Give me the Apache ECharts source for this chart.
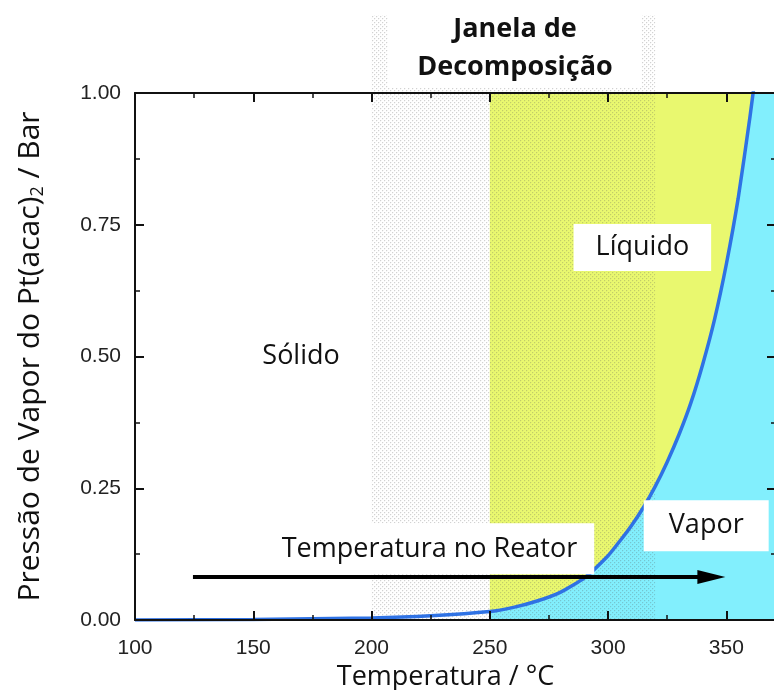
<!DOCTYPE html>
<html><head><meta charset="utf-8">
<script src="https://cdn.jsdelivr.net/npm/echarts@6/dist/echarts.min.js"></script>
<style>html,body{margin:0;padding:0;background:#fff}#c{width:774px;height:690px}</style>
</head><body><div id="c"></div>
<script>
// ---- data ----
const temps = [100, 150, 200, 225, 250, 260, 270, 280, 290, 300, 305, 310, 315, 320, 325, 330, 335, 340, 345, 350, 355, 360, 365, 372];
const pressures = [0, 0.001, 0.004, 0.008, 0.016, 0.024, 0.036, 0.053, 0.080, 0.122, 0.150, 0.180, 0.214, 0.254, 0.300, 0.352, 0.412, 0.485, 0.570, 0.675, 0.800, 0.955, 1.13, 1.43];
const liquidStart = 250;
const windowRange = [200, 320];
const xRange = [100, 371];
const yRange = [0, 1];
const labelTexts = ['Sólido', 'Líquido', 'Vapor', 'Temperatura no Reator'];
const labelT = [170.2, 314.5, 341.5, 224.5];
const labelP = [0.5, 0.707, 0.179, 0.135];
const arrowT = [124.5, 349.6];
const arrowP = 0.0816;
const titleLines = ['Janela de', 'Decomposição'];
const xName = 'Temperatura / °C';
const yName = 'Pressão de Vapor do Pt(acac){sub|2} / Bar';

// ---- build ----
const curve = temps.map((t, i) => [t, pressures[i]]);
const vaporArea = curve.filter(d => d[0] >= liquidStart);
const liquidArea = [[liquidStart, yRange[1]], [xRange[1], yRange[1]]];

const pc = document.createElement('canvas');
pc.width = 4; pc.height = 4;
const g = pc.getContext('2d');
g.fillStyle = 'rgba(90,90,90,0.27)';
g.fillRect(0, 0, 1, 1); g.fillRect(2, 2, 1, 1);
g.fillStyle = 'rgba(90,90,90,0.06)';
g.fillRect(1, 0, 1, 1); g.fillRect(0, 1, 1, 1); g.fillRect(3, 2, 1, 1); g.fillRect(2, 3, 1, 1);
const pattern = { image: pc, repeat: 'repeat' };

const FONT = '"Open Sans", "DejaVu Sans", sans-serif';
const NUMFONT = '"Liberation Sans", Arial, sans-serif';
const pads = [[8, 12], [10, 22], [12, 25], [12, 17]];

const chart = echarts.init(document.getElementById('c'), null, { renderer: 'canvas' });
function ax() {
  return {
    type: 'value', z: 10,
    axisLine: { show: true, onZero: false, lineStyle: { color: '#111', width: 2 } },
    axisTick: { show: true, inside: true, length: 9, lineStyle: { color: '#111', width: 2 } },
    minorTick: { show: true, splitNumber: 2, length: 5, lineStyle: { color: '#111', width: 1.5 } },
    splitLine: { show: false }
  };
}
chart.setOption({
  animation: false,
  backgroundColor: '#fff',
  grid: { left: 135, top: 93, width: 641, height: 527, outerBoundsMode: 'none', containLabel: false },
  xAxis: [
    Object.assign(ax(), {
      position: 'bottom', min: xRange[0], max: xRange[1], interval: 50,
      axisLabel: { show: true, fontFamily: NUMFONT, fontSize: 21, color: '#222', margin: 18,
        showMaxLabel: false },
      name: xName, nameLocation: 'middle', nameGap: 44,
      nameTextStyle: { fontFamily: FONT, fontSize: 27, color: '#111', padding: [0, 20, 0, 0] }
    }),
    Object.assign(ax(), {
      position: 'top', min: xRange[0], max: xRange[1], interval: 50, axisLabel: { show: false }
    })
  ],
  yAxis: [
    Object.assign(ax(), {
      position: 'left', min: yRange[0], max: yRange[1], interval: 0.25,
      axisLabel: { fontFamily: NUMFONT, fontSize: 21, color: '#222', margin: 14,
        formatter: v => v.toFixed(2) },
      name: yName, nameLocation: 'middle', nameGap: 88,
      nameTextStyle: { fontFamily: FONT, fontSize: 30, color: '#111',
        rich: { sub: { fontFamily: FONT, fontSize: 18, color: '#111', padding: [16, 0, 0, 0] } } }
    }),
    Object.assign(ax(), {
      position: 'right', min: yRange[0], max: yRange[1], interval: 0.25, axisLabel: { show: false }
    })
  ],
  series: [
    { type: 'line', name: 'liquid', data: liquidArea, symbol: 'none', z: 1,
      lineStyle: { width: 0 }, areaStyle: { color: '#e9f86f', opacity: 1, origin: 'start' } },
    { type: 'line', name: 'vapor', data: vaporArea, symbol: 'none', smooth: 0.2, z: 2,
      lineStyle: { width: 0 }, areaStyle: { color: '#82effd', opacity: 1, origin: 'start' } },
    { type: 'custom', name: 'window', z: 3, clip: false, silent: true,
      data: [[windowRange[0], windowRange[1]]],
      encode: { x: [0, 1] },
      renderItem: (params, api) => {
        const a = api.coord([api.value(0), yRange[1]]);
        const b = api.coord([api.value(1), yRange[0]]);
        const top = 15;
        return { type: 'rect', shape: { x: a[0], y: top, width: b[0] - a[0], height: b[1] - top },
          style: { fill: pattern } };
      } },
    { type: 'line', name: 'curve', data: curve, symbol: 'none', smooth: 0.2, z: 5,
      lineStyle: { color: '#2f72e4', width: 3.5 } },
    { type: 'custom', name: 'labels', z: 6, clip: false, silent: true,
      data: labelTexts.map((t, i) => [labelT[i], labelP[i], i]),
      encode: { x: 0, y: 1 },
      renderItem: (params, api) => {
        const i = api.value(2);
        const p = api.coord([api.value(0), api.value(1)]);
        return { type: 'text', x: p[0], y: p[1],
          style: { text: labelTexts[i], fontFamily: FONT, fontSize: 27, fill: '#111',
            align: 'center', verticalAlign: 'middle', backgroundColor: '#fff', padding: pads[i] } };
      } },
    { type: 'custom', name: 'arrow', z: 7, clip: false, silent: true,
      data: [[arrowT[0], arrowT[1], arrowP]],
      encode: { x: [0, 1], y: 2 },
      renderItem: (params, api) => {
        const s = api.coord([api.value(0), api.value(2)]);
        const e = api.coord([api.value(1), api.value(2)]);
        const hl = 28, hw = 7;
        return { type: 'group', children: [
          { type: 'line', shape: { x1: s[0], y1: s[1], x2: e[0] - hl + 2, y2: e[1] },
            style: { stroke: '#000', lineWidth: 4 } },
          { type: 'polygon', shape: { points: [[e[0], e[1]], [e[0] - hl, e[1] - hw], [e[0] - hl, e[1] + hw]] },
            style: { fill: '#000' } }
        ] };
      } }
  ],
  graphic: [
    { type: 'rect', z: 100, shape: { x: 388, y: 0, width: 254, height: 88 }, style: { fill: '#fff' } },
    { type: 'text', z: 101, x: 515, y: 29,
      style: { text: titleLines[0], fontFamily: FONT, fontWeight: 'bold', fontSize: 27, fill: '#111', align: 'center', verticalAlign: 'middle' } },
    { type: 'text', z: 101, x: 515, y: 67,
      style: { text: titleLines[1], fontFamily: FONT, fontWeight: 'bold', fontSize: 27, fill: '#111', align: 'center', verticalAlign: 'middle' } }
  ]
});
</script></body></html>
